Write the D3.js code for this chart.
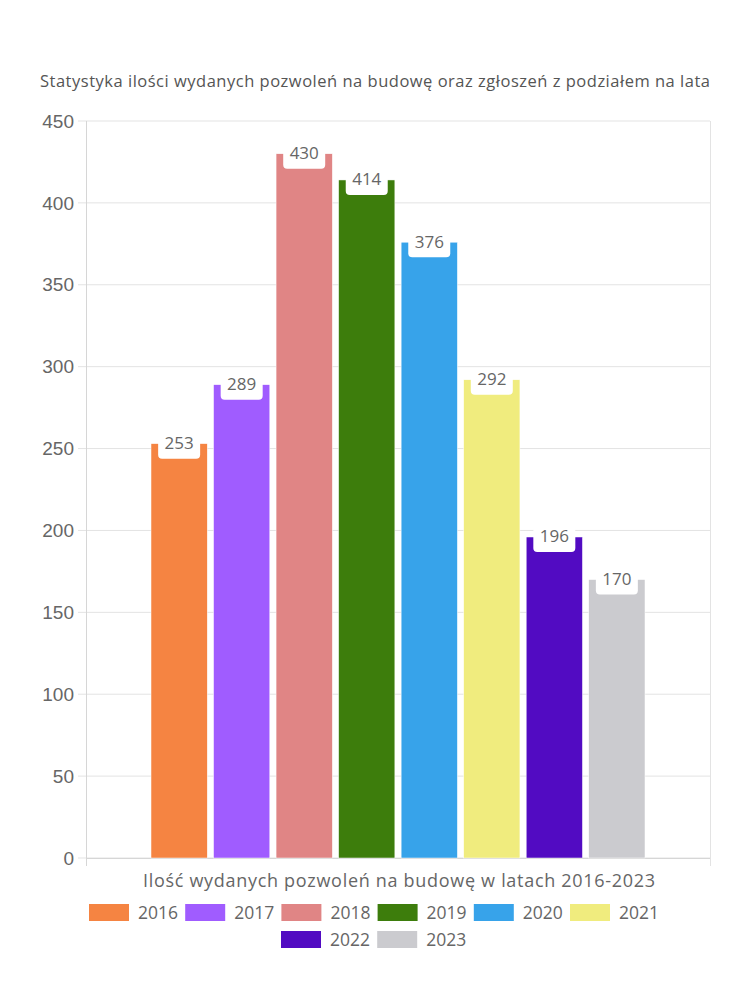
<!DOCTYPE html>
<html><head><meta charset="utf-8">
<script src="https://cdn.jsdelivr.net/npm/d3@7"></script>
<style>body{margin:0;background:#fff}svg{display:block}</style>
</head><body>
<svg id="c" width="750" height="1000"></svg>
<script>
const years = ["2016","2017","2018","2019","2020","2021","2022","2023"];
const values = [253, 289, 430, 414, 376, 292, 196, 170];
const colors = ["#f58442","#a05cff","#e08585","#3d7d0c","#37a3ea","#f0ec7e","#520bc2","#cbcbcf"];
const category = ["Ilość wydanych pozwoleń na budowę w latach 2016-2023"];
const yTicks = [0,50,100,150,200,250,300,350,400,450];
const title = "Statystyka ilości wydanych pozwoleń na budowę oraz zgłoszeń z podziałem na lata";

const svg = d3.select("#c");
const L = 86, R = 710, T = 121, B = 858;
const y = d3.scaleLinear().domain([0,450]).range([B,T]);
const x0 = d3.scaleBand().domain(category).range([L,R]).paddingOuter(0.1316).paddingInner(0);
const x1 = d3.scaleBand().domain(years).range([0, x0.bandwidth()]).paddingInner(0.1).paddingOuter(0);

const font = "'Open Sans', sans-serif";
function fitWidth(sel, target){
  const n = sel.text().length;
  const w = sel.node().getComputedTextLength();
  sel.attr("letter-spacing", ((target - w) / (n - 1)).toFixed(3));
}
// grid
svg.append("g").selectAll("line").data(yTicks).join("line")
  .attr("x1", L-8).attr("x2", R).attr("y1", d=>y(d)).attr("y2", d=>y(d))
  .attr("stroke", "#e3e3e3").attr("stroke-width", 1);
// axes lines
svg.append("line").attr("x1",L+0.5).attr("x2",L+0.5).attr("y1",T).attr("y2",B+8).attr("stroke","#d6d6d6");
svg.append("line").attr("x1",R+0.5).attr("x2",R+0.5).attr("y1",T).attr("y2",B+8).attr("stroke","#e3e3e3");
svg.append("line").attr("x1",L).attr("x2",R).attr("y1",B+0.5).attr("y2",B+0.5).attr("stroke","#d6d6d6");
// y labels
svg.append("g").selectAll("text").data(yTicks).join("text")
  .attr("x", 74).attr("y", d=>y(d)).attr("dy","0.35em").attr("text-anchor","end")
  .attr("font-family","'Liberation Sans', Arial, sans-serif").attr("font-size",19).attr("fill","#666")
  .text(d=>d);

// bars
const g = svg.append("g").attr("transform", `translate(${x0(category[0])},0)`);
g.selectAll("rect.bar").data(values).join("rect").attr("class","bar")
  .attr("x",(d,i)=>x1(years[i])).attr("width",x1.bandwidth())
  .attr("y",d=>y(d)).attr("height",d=>B-y(d))
  .attr("fill",(d,i)=>colors[i]).attr("stroke","#fff").attr("stroke-width",0.5);
// labels
const lab = g.selectAll("g.lab").data(values).join("g").attr("class","lab")
  .attr("transform",(d,i)=>`translate(${x1(years[i])+x1.bandwidth()/2},${y(d)})`);
lab.append("rect").attr("x",-21).attr("y",-10).attr("width",42).attr("height",25).attr("rx",4).attr("fill","#fff");
lab.append("text").attr("y",5.5).attr("text-anchor","middle")
  .attr("font-family",font).attr("font-size",17).attr("fill","#666")
  .text(d=>d);

// title
const tt = svg.append("text").attr("x",40).attr("y",87)
  .attr("font-family",font).attr("font-size",16.5).attr("fill","#555").text(title);
fitWidth(tt, 670);
// x category label
const xl = svg.append("text").attr("x",143).attr("y",887)
  .attr("font-family",font).attr("font-size",18).attr("fill","#666").text(category[0]);
fitWidth(xl, 512);

// legend
const row1 = years.slice(0,6), row2 = years.slice(6);
const itemW = 96.2;
function drawRow(items, startX, yy, offset){
  const lg = svg.append("g");
  items.forEach((yr,j)=>{
    const i = offset + j;
    const xx = startX + j*itemW;
    lg.append("rect").attr("x",xx).attr("y",yy).attr("width",40).attr("height",17).attr("fill",colors[i]);
    lg.append("text").attr("x",xx+49).attr("y",yy+8.5).attr("dy","0.35em")
      .attr("font-family",font).attr("font-size",17.5).attr("fill","#666").text(yr);
  });
}
drawRow(row1, 89, 904, 0);
drawRow(row2, 281, 931, 6);
</script>
</body></html>
